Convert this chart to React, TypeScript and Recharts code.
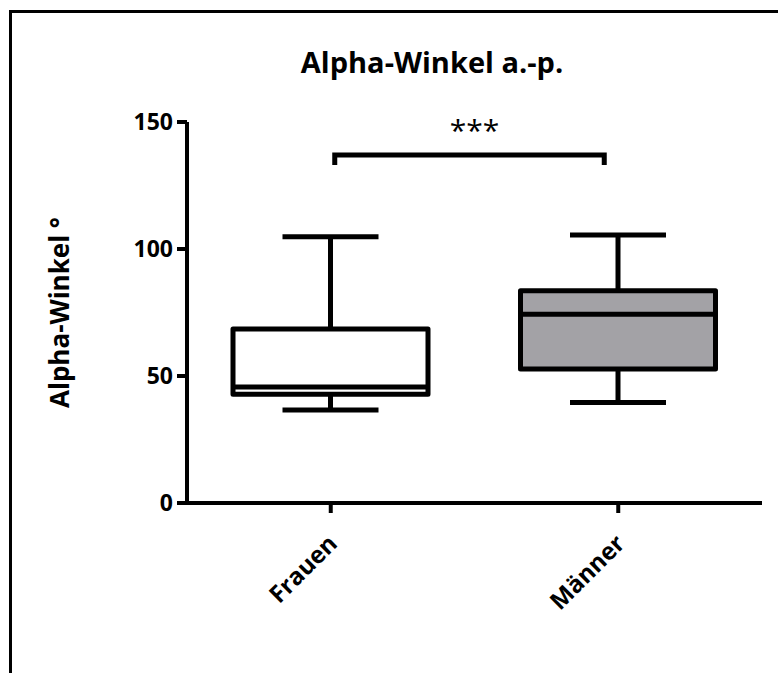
import React from 'react';
import { ComposedChart, Bar, XAxis, YAxis, ReferenceLine } from 'recharts';

const categories = ['Frauen', 'Männer'];
const minVals = [36.6, 39.6];
const q1Vals = [42.8, 52.8];
const medianVals = [45.7, 74.3];
const q3Vals = [68.5, 83.6];
const maxVals = [104.8, 105.5];
const boxFills = ['#ffffff', '#a3a2a6'];
const yTicks = [0, 50, 100, 150];
const sigLevel = 137;
const sigLabel = '***';

const data = categories.map((name, i) => ({
  name,
  min: minVals[i],
  q1: q1Vals[i],
  median: medianVals[i],
  q3: q3Vals[i],
  max: maxVals[i],
  fill: boxFills[i],
}));

const FONT = "'Open Sans', sans-serif";

const BoxShape = (props: any) => {
  const { x, y, width, height, payload } = props;
  const top = Math.min(y, y + height);
  const bottom = Math.max(y, y + height);
  const ppu = (bottom - top) / (payload.max - payload.min);
  const yOf = (v: number) => bottom - (v - payload.min) * ppu;
  const cx = x + width / 2;
  const cap = 48;
  return (
    <g stroke="#000" strokeWidth={5}>
      <line x1={cx} x2={cx} y1={yOf(payload.max)} y2={yOf(payload.q3)} />
      <line x1={cx} x2={cx} y1={yOf(payload.q1)} y2={yOf(payload.min)} />
      <line x1={cx - cap} x2={cx + cap} y1={yOf(payload.max)} y2={yOf(payload.max)} />
      <line x1={cx - cap} x2={cx + cap} y1={yOf(payload.min)} y2={yOf(payload.min)} />
      <rect x={x} y={yOf(payload.q3)} width={width} height={yOf(payload.q1) - yOf(payload.q3)} fill={payload.fill} strokeLinejoin="round" />
      <line x1={x} x2={x + width} y1={yOf(payload.median)} y2={yOf(payload.median)} />
    </g>
  );
};

const Bracket = (props: any) => {
  const { x1, y1, x2 } = props;
  const l = x1 + 4;
  const r = x2 - 14;
  return (
    <g>
      <path d={`M${l},${y1 + 10} V${y1} H${r} V${y1 + 10}`} fill="none" stroke="#000" strokeWidth={5} />
      <text x={(x1 + x2) / 2} y={y1 - 14} textAnchor="middle" fontFamily={FONT} fontSize={30} fill="#000">
        {sigLabel}
      </text>
    </g>
  );
};

const XTick = (props: any) => {
  const { x, y, payload } = props;
  const ax = x + 8;
  const ay = y + 30;
  return (
    <text x={ax} y={ay} transform={`rotate(-45, ${ax}, ${ay})`} textAnchor="end" fontFamily={FONT} fontWeight={700} fontSize={24} fill="#000">
      {payload.value}
    </text>
  );
};

export default function App() {
  return (
    <div style={{ position: 'absolute', left: 0, top: 0, width: 778, height: 673, background: '#fff' }}>
      <div style={{ position: 'absolute', left: 9, top: 10, width: 769, height: 663, borderTop: '3px solid #000', borderLeft: '3px solid #000' }} />
      <svg width={778} height={100} style={{ position: 'absolute', left: 0, top: 0 }}>
        <text x={432} y={73} textAnchor="middle" fontFamily={FONT} fontWeight={700} fontSize={29} fill="#000">
          Alpha-Winkel a.-p.
        </text>
      </svg>
      <div style={{ position: 'absolute', left: 0, top: 0 }}>
        <ComposedChart width={778} height={673} data={data} margin={{ top: 122, right: 16, bottom: 110, left: 0 }}>
          <XAxis
            dataKey="name"
            height={60}
            axisLine={{ stroke: '#000', strokeWidth: 4 }}
            tickLine={{ stroke: '#000', strokeWidth: 4 }}
            tickSize={10}
            tick={<XTick />}
            interval={0}
          />
          <YAxis
            width={187}
            domain={[0, 150]}
            ticks={yTicks}
            interval={0}
            axisLine={{ stroke: '#000', strokeWidth: 4 }}
            tickLine={{ stroke: '#000', strokeWidth: 4 }}
            tickSize={10}
            tickMargin={4}
            tick={{ fill: '#000', fontSize: 23, fontWeight: 700, fontFamily: FONT }}
            label={{
              value: 'Alpha-Winkel °',
              angle: -90,
              position: 'insideLeft',
              offset: 60,
              style: { textAnchor: 'middle', fill: '#000', fontSize: 26, fontWeight: 700, fontFamily: FONT },
            }}
          />
          <Bar dataKey={(d: any) => [d.min, d.max]} barSize={195} shape={<BoxShape />} isAnimationActive={false} />
          <ReferenceLine
            segment={[{ x: categories[0], y: sigLevel }, { x: categories[1], y: sigLevel }]}
            shape={<Bracket />}
            ifOverflow="visible"
          />
        </ComposedChart>
      </div>
    </div>
  );
}
